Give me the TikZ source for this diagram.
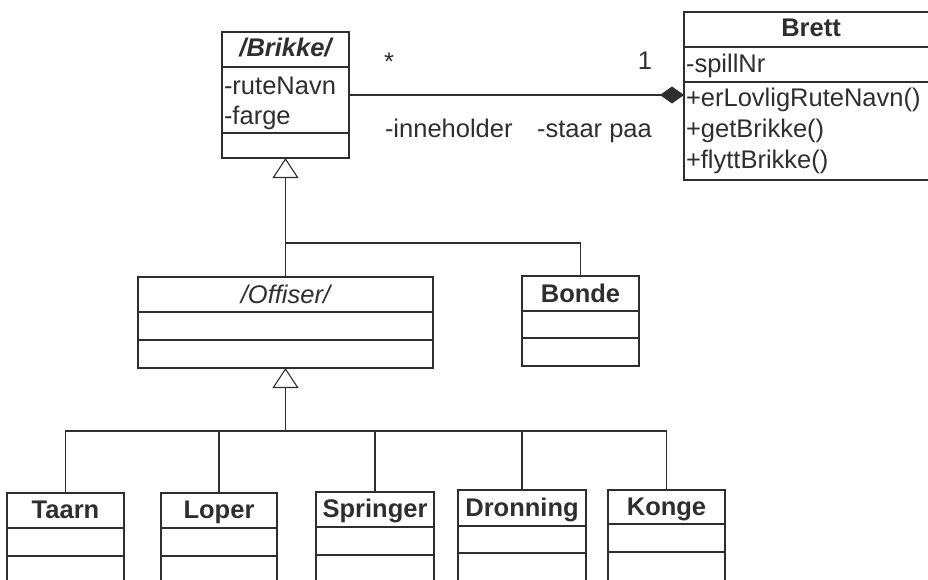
\documentclass[tikz,border=0pt]{standalone}
\usepackage{fontspec}
\setmainfont{Liberation Sans}
\usetikzlibrary{arrows.meta}
\definecolor{ink}{HTML}{2E2E2E}
\begin{document}
\begin{tikzpicture}[x=1pt,y=-1pt,
  cls/.style={draw=ink, line width=1.1pt, rectangle, inner sep=0pt, outer sep=0pt, anchor=north west},
  divl/.style={draw=ink, line width=1.1pt},
  txt/.style={inner sep=0pt, outer sep=0pt, text=ink, anchor=base, font=\fontsize{25.5}{30}\selectfont},
  ltxt/.style={txt, anchor=base west},
  bname/.style={txt, font=\fontsize{25.5}{30}\selectfont\bfseries},
  conn/.style={draw=ink, line width=1.1pt},
  gen/.style={conn, -{Triangle[open, width=26pt, length=20pt, fill=white]}},
  agg/.style={conn, -{Diamond[width=17pt, length=24pt, fill=ink]}}
]
\useasboundingbox (0,0) rectangle (928,579);

% Brikke
\node[cls, minimum width=127pt, minimum height=126pt] (brikke) at (222,32) {};
\draw[divl] (222,67) -- (349,67);
\draw[divl] (222,133) -- (349,133);
\node[txt, font=\fontsize{25.5}{30}\selectfont\bfseries\itshape] (brikkeN) at (285.5,56) {/Brikke/};
\node[ltxt] (brikkeA1) at (224,94) {-ruteNavn};
\node[ltxt] (brikkeA2) at (224,124) {-farge};

% Brett
\node[cls, minimum width=254pt, minimum height=168pt] (brett) at (684,12) {};
\draw[divl] (684,47) -- (938,47);
\draw[divl] (684,82) -- (938,82);
\node[bname] (brettN) at (811,36) {Brett};
\node[ltxt] (brettA1) at (686,72) {-spillNr};
\node[ltxt] (brettM1) at (686,106) {+erLovligRuteNavn()};
\node[ltxt] (brettM2) at (686,137) {+getBrikke()};
\node[ltxt] (brettM3) at (686,168) {+flyttBrikke()};

% association
\draw[agg] (brikke.east) -- (brikke.east -| brett.west);
\node[txt] (mulStar) at (389,70) {*};
\node[txt] (mulOne) at (645,69) {1};
\node[ltxt] (roleA) at (385,137) {-inneholder};
\node[ltxt] (roleB) at (537,137) {-staar paa};

% Offiser
\node[cls, minimum width=295pt, minimum height=91pt] (offiser) at (138,277) {};
\draw[divl] (138,312) -- (433,312);
\draw[divl] (138,340) -- (433,340);
\node[txt, font=\fontsize{25.5}{30}\selectfont\itshape] (offiserN) at (285.5,303) {/Offiser/};

% Bonde
\node[cls, minimum width=117pt, minimum height=90pt] (bonde) at (522,276) {};
\draw[divl] (522,311) -- (639,311);
\draw[divl] (522,338) -- (639,338);
\node[bname] (bondeN) at (580.5,302) {Bonde};

% bottom row
\node[cls, minimum width=117pt, minimum height=110pt] (taarn) at (7,493) {};
\draw[divl] (7,528) -- (124,528);
\draw[divl] (7,556) -- (124,556);
\node[bname] (taarnN) at (65.5,518) {Taarn};

\node[cls, minimum width=116pt, minimum height=110pt] (loper) at (161,493) {};
\draw[divl] (161,528) -- (277,528);
\draw[divl] (161,556) -- (277,556);
\node[bname] (loperN) at (219,518) {Loper};

\node[cls, minimum width=118pt, minimum height=110pt] (springer) at (316,492) {};
\draw[divl] (316,527) -- (434,527);
\draw[divl] (316,555) -- (434,555);
\node[bname] (springerN) at (375,517) {Springer};

\node[cls, minimum width=128pt, minimum height=110pt] (dronning) at (458,490) {};
\draw[divl] (458,526) -- (586,526);
\draw[divl] (458,553) -- (586,553);
\node[bname] (dronningN) at (522,516) {Dronning};

\node[cls, minimum width=117pt, minimum height=110pt] (konge) at (608,490) {};
\draw[divl] (608,524) -- (725,524);
\draw[divl] (608,552) -- (725,552);
\node[bname] (kongeN) at (666.5,515) {Konge};

% generalization 1
\coordinate (j1) at (285.5,243);
\draw[gen] (offiser.north) -- (brikke.south);
\draw[conn] (j1) -| (bonde.north);

% generalization 2
\coordinate (j2) at (285.5,431);
\draw[gen] (j2) -- (offiser.south);
\draw[conn] (taarn.north) |- (j2 -| konge.north) -- (konge.north);
\draw[conn] (loper.north) -- (loper.north |- j2);
\draw[conn] (springer.north) -- (springer.north |- j2);
\draw[conn] (dronning.north) -- (dronning.north |- j2);
\end{tikzpicture}
\end{document}
